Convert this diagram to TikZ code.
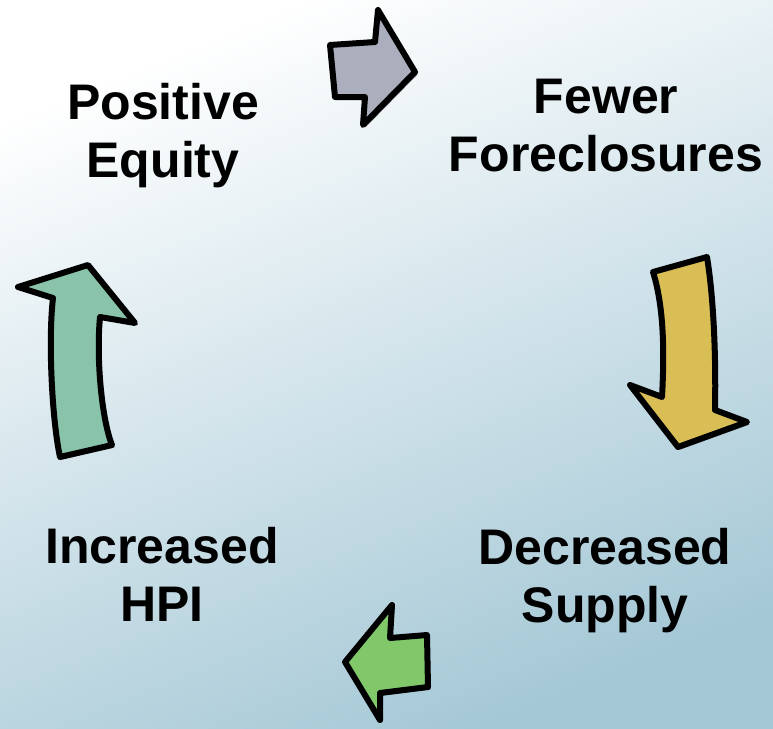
\documentclass[tikz,border=0pt]{standalone}
\usepackage{fontspec}
\setmainfont{Liberation Sans}
\usetikzlibrary{shadows}

\definecolor{bgblue}{RGB}{165,200,214}
\definecolor{bgmid}{RGB}{234,242,245}
\definecolor{arrowgray}{RGB}{170,174,189}
\definecolor{arrowyellow}{RGB}{216,190,84}
\definecolor{arrowgreen}{RGB}{128,200,106}
\definecolor{arrowteal}{RGB}{136,195,170}

\begin{document}
\begin{tikzpicture}[x=1pt,y=-1pt,
    labeltext/.style={align=center,inner sep=0pt,
        font=\bfseries\fontsize{50}{58}\selectfont},
    blockarrow/.style={draw=black,line width=6pt,line join=round,
        drop shadow={shadow xshift=2.5pt,shadow yshift=-2.5pt,fill=black!80}}]
    \useasboundingbox (0,0) rectangle (773,728);
    % background
    \shade[top color=white,middle color=bgmid,bottom color=bgblue,shading angle=22]
        (0,0) rectangle (773,728);

    % labels
    \node[labeltext] at (163,136) (equity) {Positive\\Equity};
    \node[labeltext] at (606,126) (foreclosures) {Fewer\\Foreclosures};
    \node[labeltext] at (605,581) (supply) {Decreased\\Supply};
    \node[labeltext] at (162,574) (hpi) {Increased\\HPI};

    % arrows
    \draw[blockarrow,fill=arrowgray] (330,45) -- (375,42) -- (378,10) -- (415,72)
        -- (363,125) -- (365,97) -- (335,97) -- cycle;
    \draw[blockarrow,fill=arrowyellow] (653,272) .. controls (665,310) and (664,360) .. (662,397)
        -- (630,385) -- (678,447) -- (747,422) -- (715,410)
        .. controls (716,360) and (714,300) .. (707,257) -- cycle;
    \draw[blockarrow,fill=arrowgreen] (345,662) -- (392,605) -- (390,638) -- (427,635)
        -- (428,687) -- (380,693) -- (380,720) -- cycle;
    \draw[blockarrow,fill=arrowteal] (60,457) .. controls (52,420) and (48,340) .. (53,298)
        -- (18,287) -- (88,265) -- (135,323) -- (100,317)
        .. controls (96,360) and (102,420) .. (112,445) -- cycle;
\end{tikzpicture}
\end{document}
